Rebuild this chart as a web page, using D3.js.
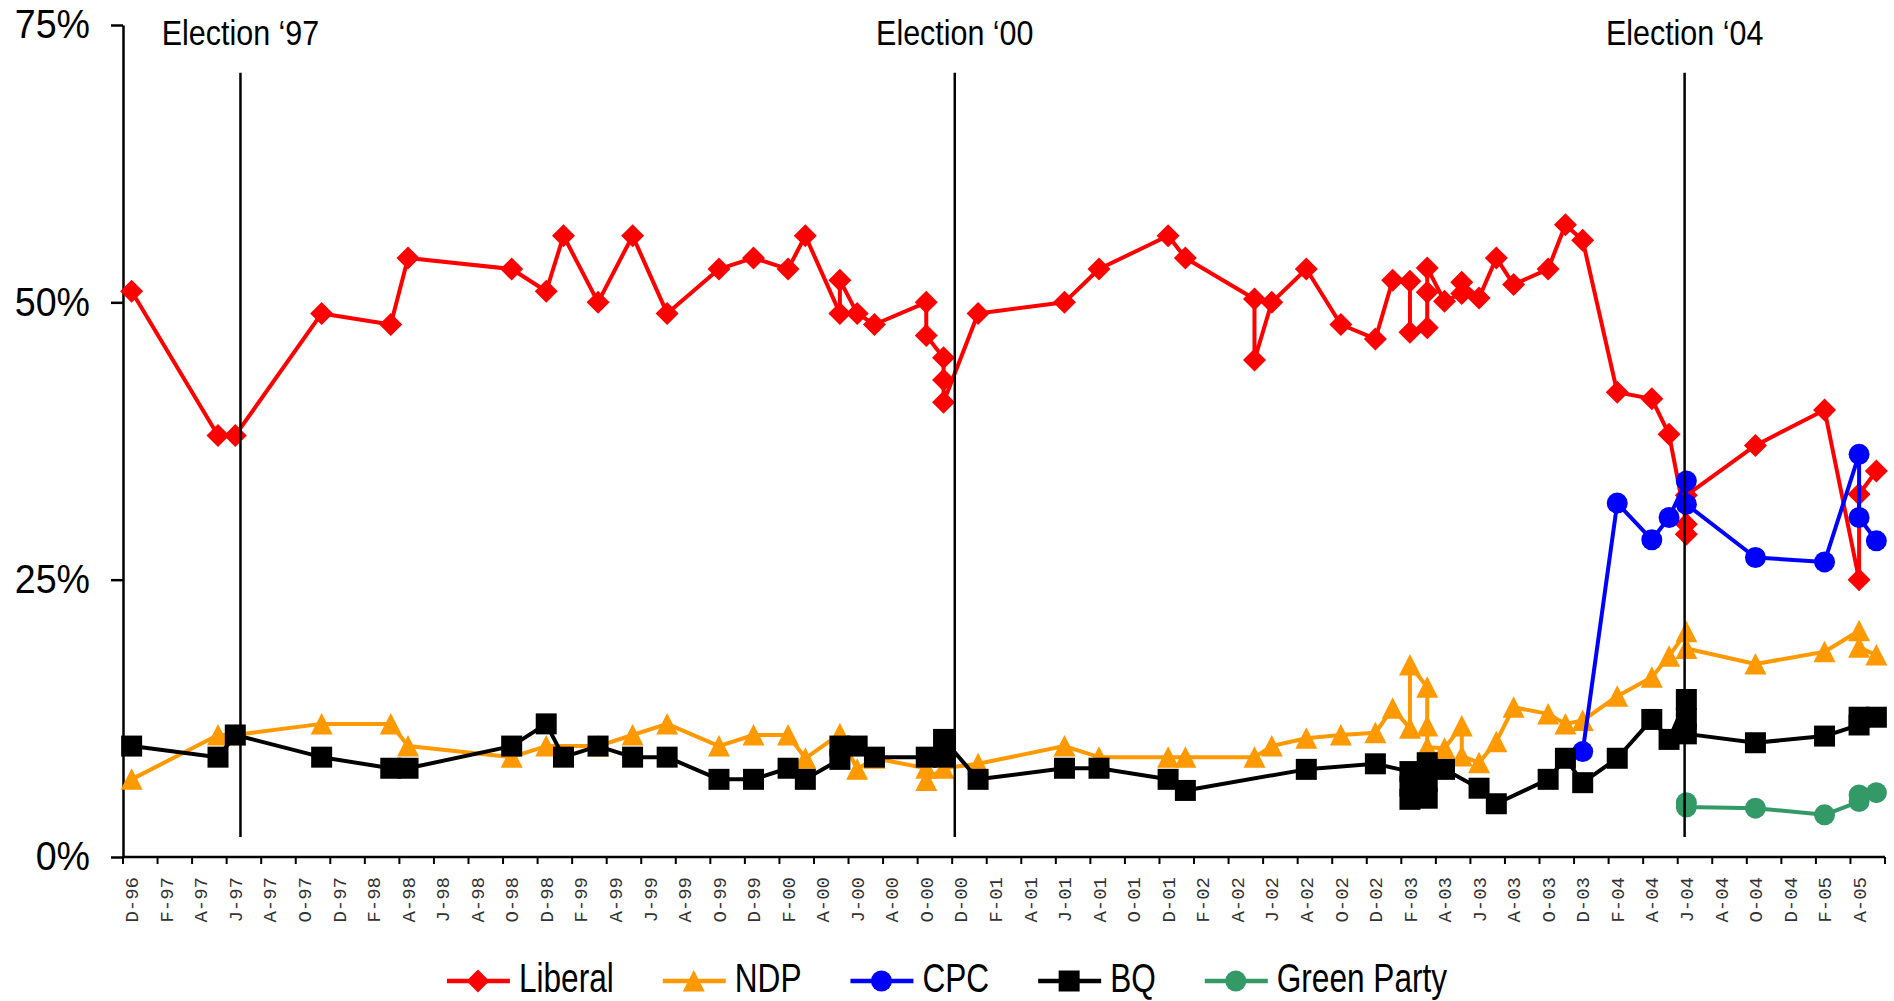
<!DOCTYPE html>
<html><head><meta charset="utf-8">
<script src="https://cdnjs.cloudflare.com/ajax/libs/d3/7.8.5/d3.min.js"></script>
<style>html,body{margin:0;padding:0;background:#fff;}svg{display:block;}</style>
</head><body>
<svg id="chart" width="1894" height="1001"></svg>
<script>
// ---------------- DATA ----------------
const firstMonth = "1996-12", lastMonth = "2005-05";
const tickLabels = ["D-96","F-97","A-97","J-97","A-97","O-97","D-97","F-98","A-98","J-98","A-98","O-98",
  "D-98","F-99","A-99","J-99","A-99","O-99","D-99","F-00","A-00","J-00","A-00","O-00","D-00","F-01",
  "A-01","J-01","A-01","O-01","D-01","F-02","A-02","J-02","A-02","O-02","D-02","F-03","A-03","J-03",
  "A-03","O-03","D-03","F-04","A-04","J-04","A-04","O-04","D-04","F-05","A-05"];
const yTicks = [0, 25, 50, 75];

const liberal = [["1996-12",51],["1997-05",38],["1997-06",38],["1997-11",49],["1998-03",48],["1998-04",54],
  ["1998-10",53],["1998-12",51],["1999-01",56],["1999-03",50],["1999-05",56],["1999-07",49],["1999-10",53],
  ["1999-12",54],["2000-02",53],["2000-03",56],["2000-05",49],["2000-05",52],["2000-06",49],["2000-07",48],
  ["2000-10",50],["2000-10",47],["2000-11",45],["2000-11",43],["2000-11",41],["2001-01",49],["2001-06",50],
  ["2001-08",53],["2001-12",56],["2002-01",54],["2002-05",50.3],["2002-05",44.8],["2002-06",50],["2002-08",53],
  ["2002-10",48],["2002-12",46.7],["2003-01",52],["2003-02",51.9],["2003-02",47.3],["2003-03",47.7],
  ["2003-03",50.9],["2003-03",53.1],["2003-04",50.1],["2003-05",50.8],["2003-05",51.8],["2003-06",50.4],
  ["2003-07",54],["2003-08",51.6],["2003-10",53],["2003-11",57],["2003-12",55.6],["2004-02",41.9],
  ["2004-04",41.3],["2004-05",38.1],["2004-06",30],["2004-06",29.1],["2004-06",32.6],["2004-10",37.1],
  ["2005-02",40.3],["2005-04",25],["2005-04",32.7],["2005-05",34.8]];

const ndp = [["1996-12",7],["1997-05",11],["1997-06",11],["1997-11",12],["1998-03",12],["1998-04",10],
  ["1998-10",9],["1998-12",10],["1999-03",10],["1999-05",11],["1999-07",12],["1999-10",10],["1999-12",11],
  ["2000-02",11],["2000-03",8.9],["2000-05",11.1],["2000-06",7.9],["2000-07",8.9],["2000-10",8],["2000-10",6.9],
  ["2000-11",8],["2001-01",8.4],["2001-06",10],["2001-08",9],["2001-12",9],["2002-01",9],["2002-05",9],
  ["2002-06",10],["2002-08",10.7],["2002-10",11],["2002-12",11.2],["2003-01",13.4],["2003-02",11.6],
  ["2003-02",17.3],["2003-03",15.3],["2003-03",11.8],["2003-03",9.9],["2003-04",9.8],["2003-05",11.8],
  ["2003-05",9.1],["2003-06",8.5],["2003-07",10.4],["2003-08",13.5],["2003-10",12.9],["2003-11",12],
  ["2003-12",12.3],["2004-02",14.5],["2004-04",16.2],["2004-05",18.1],["2004-06",20.3],["2004-06",18.8],
  ["2004-10",17.4],["2005-02",18.5],["2005-04",20.4],["2005-04",18.9],["2005-05",18.2]];

const cpc = [["2003-12",9.5],["2004-02",31.9],["2004-04",28.6],["2004-05",30.6],["2004-06",33.9],["2004-06",31.8],
  ["2004-10",27],["2005-02",26.6],["2005-04",36.3],["2005-04",30.6],["2005-05",28.5]];

const bq = [["1996-12",10],["1997-05",9],["1997-06",11],["1997-11",9],["1998-03",8],["1998-04",8],["1998-10",10],
  ["1998-12",12],["1999-01",9],["1999-03",10],["1999-05",9],["1999-07",9],["1999-10",7],["1999-12",7],
  ["2000-02",8],["2000-03",7],["2000-05",8.8],["2000-05",10],["2000-06",10],["2000-07",9],["2000-10",9],
  ["2000-11",9],["2000-11",10.6],["2001-01",7],["2001-06",8],["2001-08",8],["2001-12",7],["2002-01",6],
  ["2002-08",7.9],["2002-12",8.4],["2003-02",7.7],["2003-02",6.4],["2003-02",5.2],["2003-03",5.3],["2003-03",6.8],
  ["2003-03",8.5],["2003-04",7.9],["2003-06",6.2],["2003-07",4.8],["2003-10",7],["2003-11",8.9],["2003-12",6.7],
  ["2004-02",8.9],["2004-04",12.4],["2004-05",10.6],["2004-06",14.2],["2004-06",12.5],["2004-06",11.1],
  ["2004-10",10.3],["2005-02",10.9],["2005-04",11.9],["2005-04",12.6],["2005-05",12.6]];

const green = [["2004-06",4.9],["2004-06",4.5],["2004-10",4.4],["2005-02",3.8],["2005-04",5.0],["2005-04",5.6],
  ["2005-05",5.8]];

const seriesNames = ["Liberal","NDP","CPC","BQ","Green Party"];
const elections = [["Election \u201897","1997-06",0.8],["Election \u201800","2000-12",0.15],["Election \u201804","2004-06",0.4]];

// ---------------- STYLE ----------------
const colors = ["#FF0000","#FF9900","#0000FF","#000000","#339966"];
const shapes = ["diamond","triangle","circle","square","circle"];
const FONT = "'Liberation Sans',Arial,sans-serif";

// ---------------- CHART ----------------
const svg = d3.select("#chart");
const parse = d3.timeParse("%Y-%m");
const fmt = d3.timeFormat("%Y-%m");
const monthKeys = d3.timeMonth.range(parse(firstMonth), d3.timeMonth.offset(parse(lastMonth),1)).map(fmt);

const x = d3.scaleBand().domain(monthKeys).range([123, 1885]).padding(0);
const y = d3.scaleLinear().domain([0, 75]).range([857, 25]);
const bw = x.bandwidth();
const cx = d => x(d[0]) + bw / 2;
const cy = d => y(d[1]);

function markerPath(shape) {
  if (shape === "diamond") return "M0,-11.5L11.5,0L0,11.5L-11.5,0Z";
  if (shape === "triangle") return "M0,-11L11,10.5L-11,10.5Z";
  if (shape === "square") return "M-10.5,-10.5H10.5V10.5H-10.5Z";
  return d3.symbol(d3.symbolCircle, Math.PI * 10.5 * 10.5)();
}

// Y axis
const ySX = 0.94;
const yAxis = d3.axisLeft(y).tickValues(yTicks).tickFormat(d => d + "%").tickSize(12).tickSizeOuter(0).tickPadding(20);
const gy = svg.append("g").attr("transform", "translate(123,0)").call(yAxis);
gy.select(".domain").attr("stroke", "#000").attr("stroke-width", 2.5);
gy.selectAll(".tick line").attr("stroke", "#000").attr("stroke-width", 2.5);
gy.selectAll(".tick text").attr("font-family", FONT).attr("font-size", 40).attr("fill", "#000")
  .attr("x", -33 / ySX).attr("transform", `scale(${ySX},1)`);

// X axis
const gx = svg.append("g");
gx.append("line").attr("x1", x.range()[0]).attr("x2", x.range()[1]).attr("y1", y(0)).attr("y2", y(0))
  .attr("stroke", "#000").attr("stroke-width", 2.5);
const tickIdx = d3.range(0, monthKeys.length + 1, 2);
gx.selectAll("line.tk").data(tickIdx).join("line").attr("class","tk")
  .attr("x1", i => i < monthKeys.length ? x(monthKeys[i]) : x.range()[1])
  .attr("x2", i => i < monthKeys.length ? x(monthKeys[i]) : x.range()[1])
  .attr("y1", y(0)).attr("y2", y(0) + 7).attr("stroke", "#000").attr("stroke-width", 2);
gx.selectAll("text").data(tickLabels).join("text")
  .attr("transform", (d, i) => `translate(${x(monthKeys[i * 2]) + bw / 2},${y(0) + 20}) rotate(-90)`)
  .attr("text-anchor", "end").attr("dy", "0.35em")
  .attr("font-family", "'Liberation Mono','DejaVu Sans Mono',monospace").attr("font-size", 19)
  .attr("fill", "#333").text(d => d);

// series
const allSeries = [liberal, ndp, cpc, bq, green];
const line = d3.line().x(cx).y(cy);
allSeries.forEach((data, si) => {
  const g = svg.append("g");
  g.append("path").datum(data).attr("d", line).attr("fill", "none")
    .attr("stroke", colors[si]).attr("stroke-width", 4).attr("stroke-linejoin", "round");
  g.selectAll("path.m").data(data).join("path").attr("class","m")
    .attr("transform", d => `translate(${cx(d)},${cy(d)})`)
    .attr("d", markerPath(shapes[si])).attr("fill", colors[si]);
});

// election lines
const ge = svg.append("g");
elections.forEach(e => {
  const ex = x(e[1]) + e[2] * bw;
  ge.append("line").attr("x1", ex).attr("x2", ex).attr("y1", y(70.7)).attr("y2", y(1.8))
    .attr("stroke", "#000").attr("stroke-width", 2.5);
  ge.append("g").attr("transform", `translate(${ex},45) scale(0.87,1)`)
    .append("text").attr("text-anchor", "middle")
    .attr("font-family", FONT).attr("font-size", 35).attr("fill", "#000").text(e[0]);
});

// legend
const lSX = 0.79;
const lg = svg.append("g");
const items = seriesNames.map((n, i) => {
  const it = lg.append("g");
  it.append("line").attr("x1", 0).attr("x2", 63).attr("y1", 0).attr("y2", 0)
    .attr("stroke", colors[i]).attr("stroke-width", 4.5);
  it.append("path").attr("transform", "translate(31,0)").attr("d", markerPath(shapes[i])).attr("fill", colors[i]);
  const t = it.append("g").attr("transform", `translate(72,11) scale(${lSX},1)`)
    .append("text").attr("font-family", FONT).attr("font-size", 40).attr("fill", "#000").text(n);
  return {g: it, w: 72 + t.node().getComputedTextLength() * lSX};
});
const gap = 49;
const total = d3.sum(items, d => d.w) + gap * (items.length - 1);
let lx = 947 - total / 2;
items.forEach(it => { it.g.attr("transform", `translate(${lx},981)`); lx += it.w + gap; });
</script>
</body></html>
